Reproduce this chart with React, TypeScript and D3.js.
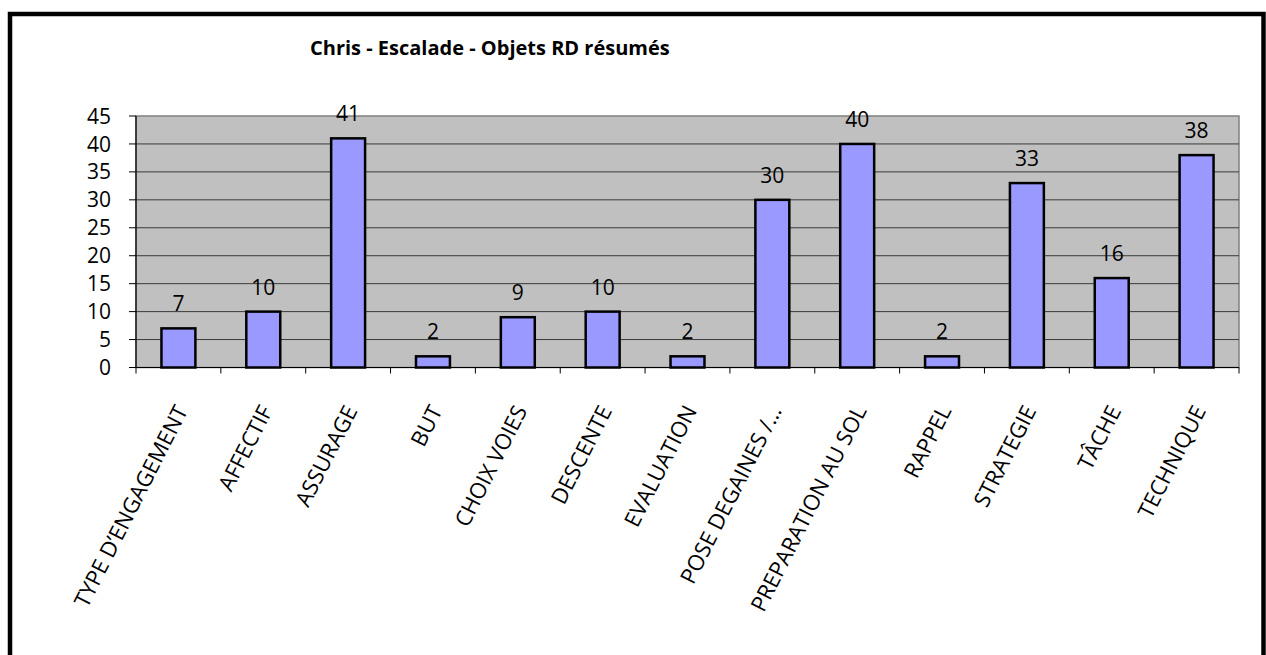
import { useEffect, useRef } from "react";
import * as d3 from "d3";

const categories = [
  "TYPE D\u2019ENGAGEMENT",
  "AFFECTIF",
  "ASSURAGE",
  "BUT",
  "CHOIX VOIES",
  "DESCENTE",
  "EVALUATION",
  "POSE DEGAINES  /\u2026",
  "PREPARATION AU SOL",
  "RAPPEL",
  "STRATEGIE",
  "T\u00C2CHE",
  "TECHNIQUE",
];
const values = [7, 10, 41, 2, 9, 10, 2, 30, 40, 2, 33, 16, 38];
const yTicks = [0, 5, 10, 15, 20, 25, 30, 35, 40, 45];
const title = "Chris - Escalade - Objets RD résumés";

const App = () => {
  const svgRef = useRef<SVGSVGElement>(null);

  useEffect(() => {
    if (!svgRef.current) return;
    d3.select(svgRef.current).selectAll("*").remove();

    const width = 1266;
    const height = 655;
    const plot = { left: 136, top: 116, right: 1239, bottom: 367.5 };
    const font = "'Open Sans', 'DejaVu Sans', sans-serif";

    const svg = d3.select(svgRef.current)
      .attr("width", width)
      .attr("height", height)
      .attr("viewBox", `0 0 ${width} ${height}`);

    svg.append("rect")
      .attr("width", width)
      .attr("height", height)
      .attr("fill", "#fff");

    // outer frame
    svg.append("rect")
      .attr("x", 10)
      .attr("y", 14)
      .attr("width", 1253.5)
      .attr("height", 700)
      .attr("fill", "none")
      .attr("stroke", "#000")
      .attr("stroke-width", 4.5);

    const x = d3.scaleBand<string>()
      .domain(categories)
      .range([plot.left, plot.right])
      .paddingInner(0.6)
      .paddingOuter(0.3);

    const y = d3.scaleLinear()
      .domain([0, 45])
      .range([plot.bottom, plot.top]);

    // plot background
    svg.append("rect")
      .attr("x", plot.left)
      .attr("y", plot.top)
      .attr("width", plot.right - plot.left)
      .attr("height", plot.bottom - plot.top)
      .attr("fill", "#c0c0c0")
      .attr("stroke", "#808080")
      .attr("stroke-width", 1.5);

    // gridlines
    svg.append("g")
      .selectAll("line")
      .data(yTicks.filter(t => t > 0 && t < 45))
      .join("line")
      .attr("x1", plot.left)
      .attr("x2", plot.right)
      .attr("y1", d => y(d))
      .attr("y2", d => y(d))
      .attr("stroke", "#3a3a3a")
      .attr("stroke-width", 1);

    // y axis
    const yAxis = svg.append("g");
    yAxis.append("line")
      .attr("x1", plot.left).attr("x2", plot.left)
      .attr("y1", plot.top).attr("y2", plot.bottom)
      .attr("stroke", "#000").attr("stroke-width", 1.2);
    yAxis.selectAll("line.tick")
      .data(yTicks)
      .join("line")
      .attr("class", "tick")
      .attr("x1", plot.left - 7).attr("x2", plot.left)
      .attr("y1", d => y(d)).attr("y2", d => y(d))
      .attr("stroke", "#000").attr("stroke-width", 1);
    yAxis.selectAll("text")
      .data(yTicks)
      .join("text")
      .attr("x", plot.left - 25)
      .attr("y", d => y(d))
      .attr("dy", "0.36em")
      .attr("text-anchor", "end")
      .style("font-family", font)
      .style("font-size", "21px")
      .text(d => d);

    // x axis
    const xAxis = svg.append("g");
    xAxis.append("line")
      .attr("x1", plot.left).attr("x2", plot.right)
      .attr("y1", plot.bottom).attr("y2", plot.bottom)
      .attr("stroke", "#000").attr("stroke-width", 1.2);
    const step = x.step();
    const boundaries = d3.range(categories.length + 1).map(i => plot.left + i * step);
    xAxis.selectAll("line.tick")
      .data(boundaries)
      .join("line")
      .attr("class", "tick")
      .attr("x1", d => d).attr("x2", d => d)
      .attr("y1", plot.bottom).attr("y2", plot.bottom + 6)
      .attr("stroke", "#000").attr("stroke-width", 1);
    xAxis.selectAll("text")
      .data(categories)
      .join("text")
      .attr("text-anchor", "end")
      .attr("transform", d => {
        const cx = x(d)! + x.bandwidth() / 2 + 10;
        return `translate(${cx},${plot.bottom + 43}) rotate(-63)`;
      })
      .style("font-family", font)
      .style("font-size", "22px")
      .text(d => d);

    // bars
    svg.append("g")
      .selectAll("rect")
      .data(values)
      .join("rect")
      .attr("x", (_, i) => x(categories[i])!)
      .attr("y", d => y(d))
      .attr("width", x.bandwidth())
      .attr("height", d => plot.bottom - y(d))
      .attr("fill", "#9999ff")
      .attr("stroke", "#000")
      .attr("stroke-width", 2.5);

    // data labels
    svg.append("g")
      .selectAll("text")
      .data(values)
      .join("text")
      .attr("x", (_, i) => x(categories[i])! + x.bandwidth() / 2)
      .attr("y", d => y(d) - 17)
      .attr("text-anchor", "middle")
      .style("font-family", font)
      .style("font-size", "21px")
      .text(d => d);

    // title
    svg.append("text")
      .attr("x", 310)
      .attr("y", 55)
      .style("font-family", font)
      .style("font-size", "20px")
      .style("font-weight", "700")
      .text(title);
  }, []);

  return (
    <svg ref={svgRef} style={{ position: "absolute", left: 0, top: 0 }}></svg>
  );
};

export default App;
